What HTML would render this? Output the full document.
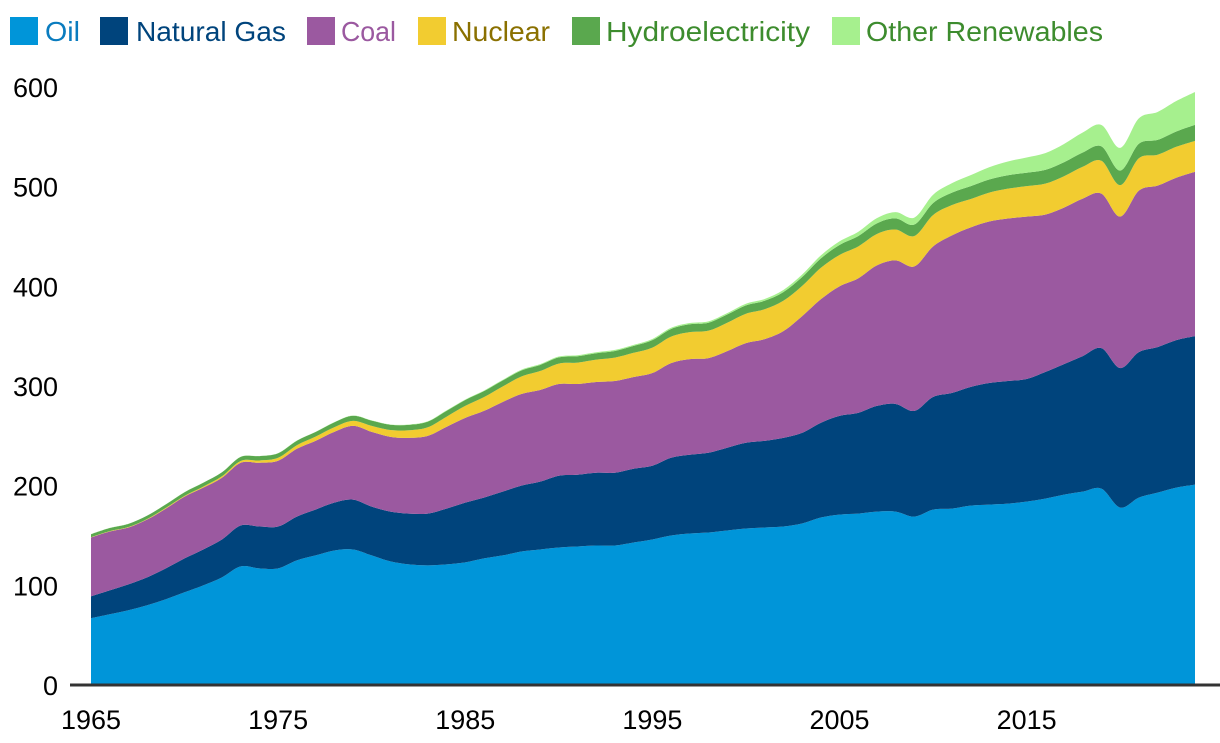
<!DOCTYPE html>
<html><head><meta charset="utf-8"><style>
body{margin:0;background:#fff;font-family:"Liberation Sans",sans-serif}
</style></head><body>
<svg id="c" width="1220" height="738" style="font-family:'Liberation Sans',sans-serif"></svg>
<script>
const years=[];for(let y=1965;y<=2024;y++)years.push(y);
const oil=[67,71,75,80,86,93,100,108,119,117,117,125,130,135,136,130,124,121,120,121,123,127,130,134,136,138,139,140,140,143,146,150,152,153,155,157,158,159,162,168,171,172,174,174,169,176,177,180,181,182,184,187,191,194,197,178,188,193,198,201];
const gas=[22,24,26,28,31,34,36,38,41,42,42,44,46,48,50,49,50,51,52,56,60,61,64,66,68,72,72,73,73,74,74,78,79,80,83,86,87,89,91,95,99,101,106,108,106,113,116,119,122,123,123,127,131,136,141,140,146,146,148,149];
const coal=[59,59,57,58,60,62,62,62,63,64,66,68,69,71,74,75,75,76,78,82,85,87,90,92,92,92,91,91,92,92,93,95,96,95,97,100,102,107,117,124,130,135,141,144,145,151,158,160,162,163,163,158,157,158,155,152,162,162,163,165];
const nuclear=[0.3,0.4,0.5,0.6,0.7,0.8,1.1,1.4,1.8,2.3,3,3.6,4.2,4.6,5,6,6.8,7.6,8.6,10.2,12,13.8,15.5,17.5,19,20.5,21.5,22.5,23.5,24.3,25.5,26.5,27,27.5,28.5,29.5,30,30.5,30.3,31.5,31.5,32,31.5,31,30.5,31.5,30.5,28.5,29,30,30.5,31,31.5,32,33,31.5,32.5,31,31,31];
const hydro=[3,3.1,3.2,3.3,3.5,3.6,3.8,4,4.1,4.4,4.5,4.5,4.6,4.9,5.1,5.2,5.3,5.4,5.6,5.8,5.9,6,6,6.1,6.1,6.2,6.4,6.4,6.6,6.9,7.5,7.7,7.9,8,8.2,8.4,8.5,8.7,8.9,9.4,10,10.4,10.7,11.2,11.5,12,12.4,12.9,13.2,13.5,13.5,13.8,14,14.3,14.4,14.6,14.5,14.9,15.4,16];
const other=[0.1,0.1,0.1,0.1,0.1,0.1,0.1,0.1,0.1,0.1,0.2,0.2,0.2,0.2,0.3,0.3,0.3,0.4,0.4,0.5,0.6,0.6,0.7,0.7,0.8,0.9,1,1,1.1,1.1,1.2,1.2,1.3,1.4,1.4,1.6,1.8,2.1,2.5,3,3.6,4.3,5.2,6.2,7,8.3,9.5,11,12.3,13.8,15.3,16.8,18.3,20,21.5,22.8,25.5,28,30.5,33];
const series=[oil,gas,coal,nuclear,hydro,other];
const names=["Oil","Natural Gas","Coal","Nuclear","Hydroelectricity","Other Renewables"];
const fills=["#0095d9","#00447c","#9b59a0","#f2cc30","#5aa84e","#a6f08e"];
const textCols=["#0a7cbf","#00447c","#9b59a0","#8a7000","#3d8c2e","#3d8c2e"];
const yTicks=[0,100,200,300,400,500,600];
const xTicks=[1965,1975,1985,1995,2005,2015];
const NS="http://www.w3.org/2000/svg";
const svg=document.getElementById('c');
const x=y=>91+(y-1965)*(1195-91)/(2024-1965);
const yv=v=>685-v*(685-87)/600;
function el(t,a){const e=document.createElementNS(NS,t);for(const k in a)e.setAttribute(k,a[k]);svg.appendChild(e);return e;}
function smooth(pts){
  let d='';
  for(let i=0;i<pts.length-1;i++){
    const p0=pts[Math.max(0,i-1)],p1=pts[i],p2=pts[i+1],p3=pts[Math.min(pts.length-1,i+2)];
    const c1=[p1[0]+(p2[0]-p0[0])/6,p1[1]+(p2[1]-p0[1])/6];
    const c2=[p2[0]-(p3[0]-p1[0])/6,p2[1]-(p3[1]-p1[1])/6];
    d+='C'+c1[0]+','+c1[1]+' '+c2[0]+','+c2[1]+' '+p2[0]+','+p2[1];
  }
  return d;
}
let base=years.map(()=>0);
series.forEach((s,i)=>{
  const top=base.map((b,j)=>b+s[j]);
  const tp=years.map((yr,j)=>[x(yr),yv(top[j])]);
  const bp=years.map((yr,j)=>[x(yr),yv(base[j])]).reverse();
  const d='M'+tp[0][0]+','+tp[0][1]+smooth(tp)+'L'+bp[0][0]+','+bp[0][1]+smooth(bp)+'Z';
  const p=el('path',{d:d,fill:fills[i]});
  
  
  base=top;
});
const ax=el('line',{x1:70,x2:1220,y1:685,y2:685,stroke:'#333',"stroke-width":3});


yTicks.forEach(v=>{const t=el('text',{x:58,y:yv(v)+10,"text-anchor":"end","font-size":27,fill:'#000'});t.textContent=v;

});
xTicks.forEach(v=>{const t=el('text',{x:x(v),y:729,"text-anchor":"middle","font-size":27,fill:'#000',textLength:60,lengthAdjust:'spacingAndGlyphs'});t.textContent=v;

});
const lx=[10,100,307,418,572,832];
const tx=[45,136,341,452,606,866];
const tw=[35,150,55,98,204,237];
names.forEach((n,i)=>{
  const r=el('rect',{x:lx[i],y:17,width:28,height:28,fill:fills[i]});
  
  
  const t=el('text',{x:tx[i],y:41,"font-size":28,fill:textCols[i],textLength:tw[i],lengthAdjust:'spacingAndGlyphs'});t.textContent=n;
  
  
});
</script>
</body></html>
